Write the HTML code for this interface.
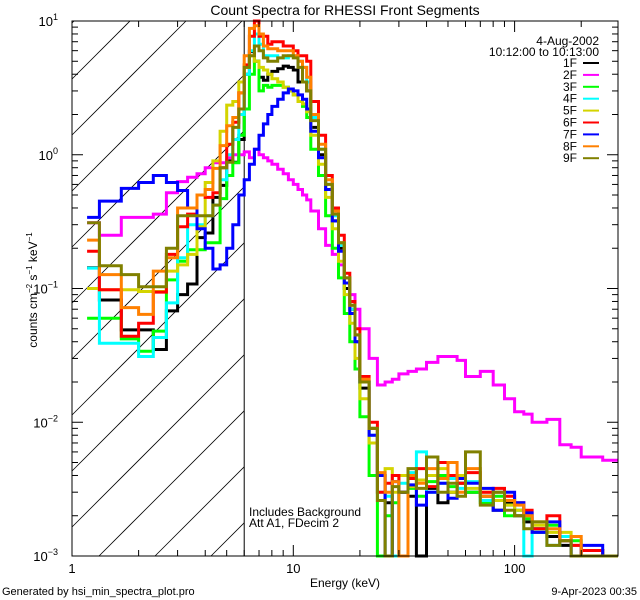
<!DOCTYPE html>
<html><head><meta charset="utf-8"><style>
html,body{margin:0;padding:0;background:#fff;width:640px;height:600px;overflow:hidden;}
svg{display:block;font-family:"Liberation Sans",sans-serif;overflow:hidden;}
</style></head><body>
<svg id="chart" width="640" height="600" viewBox="0 0 640 600" xmlns="http://www.w3.org/2000/svg">
<rect width="640" height="600" fill="#fff"/>
<text x="345" y="15" font-size="14" text-anchor="middle">Count Spectra for RHESSI Front Segments</text>
<g id="hatch"></g>
<g id="series"></g>
<g id="axes"></g>
<text x="249" y="516" font-size="12">Includes Background</text>
<text x="249" y="527" font-size="12">Att A1, FDecim  2</text>
<text x="345" y="587" font-size="12" text-anchor="middle">Energy (keV)</text>
<text transform="translate(37,290) rotate(-90)" font-size="12" text-anchor="middle">counts cm<tspan font-size="8" dy="-5">−2</tspan><tspan dy="5"> s</tspan><tspan font-size="8" dy="-5">−1</tspan><tspan dy="5"> keV</tspan><tspan font-size="8" dy="-5">−1</tspan></text>
<text x="2" y="595" font-size="11">Generated by hsi_min_spectra_plot.pro</text>
<text x="637" y="595" font-size="11" text-anchor="end">9-Apr-2023 00:35</text>
<text x="599" y="45" font-size="12" text-anchor="end">4-Aug-2002</text>
<text x="599" y="56" font-size="12" text-anchor="end">10:12:00 to 10:13:00</text>
<g id="legend"></g>
</svg>
<script>
const NS="http://www.w3.org/2000/svg";
const edges=[1.17,1.33,1.67,2,2.33,2.67,3,3.33,3.67,4,4.33,4.67,5,5.33,5.67,6,
6.33,6.67,7,7.33,7.67,8,8.5,9,9.5,10,10.5,11,
11.5,12,13,14,15,16,17,18,19,20,22,24,26,28,30,33,36,40,45,50,55,60,70,80,90,100,110,120,140,160,180,200,250,300];
const seriesNames=["1F","2F","3F","4F","5F","6F","7F","8F","9F"];
const seriesColors=["#000000","#ff00ff","#00ff00","#00ffff","#d4d400","#ff0000","#0000ff","#ff8000","#808000"];
const v1F=[0.143,0.082,0.049,0.049,0.035,0.068,0.09,0.108,0.24,0.26,0.48,0.59,0.9,0.88,1.3,
4,5.9,5,3.8,3.6,4,4.2,4.4,4.6,4.5,4.3,3.5,
3.5,3,1.6,1.0,0.55,0.32,0.2,0.1,0.07,0.04,0.018,0.009,0.004,0.0025,0.0009,0.003,0.0028,0.0009,0.0032,0.0025,0.003,0.0035,0.003,0.0028,0.0022,0.0025,0.002,0.0018,0.0016,0.0014,0.0012,0.0009,0.0011,0.0008];
const v2F=[0.31,0.25,0.34,0.34,0.36,0.52,0.63,0.68,0.72,0.8,0.87,0.87,0.95,1.0,1.0,
1.05,0.95,1.1,1.0,0.95,0.9,0.85,0.78,0.72,0.65,0.6,0.55,
0.5,0.46,0.38,0.28,0.21,0.18,0.15,0.12,0.09,0.07,0.05,0.03,0.019,0.02,0.021,0.023,0.024,0.025,0.028,0.031,0.031,0.029,0.022,0.024,0.019,0.015,0.012,0.0115,0.01,0.0105,0.0068,0.0065,0.0055,0.0052];
const v3F=[0.06,0.06,0.042,0.034,0.048,0.116,0.16,0.195,0.195,0.22,0.22,0.47,0.7,0.87,1.4,
2.2,4,5,3,3.3,3.2,3.3,3.3,3.2,3.0,2.8,2.5,
2.3,1.9,1.1,0.7,0.35,0.2,0.12,0.065,0.04,0.025,0.011,0.004,0.0009,0.002,0.0025,0.003,0.0032,0.0028,0.0036,0.004,0.0033,0.0035,0.003,0.0025,0.0028,0.002,0.0022,0.0019,0.0015,0.0017,0.0014,0.0013,0.0011,0.0009];
const v4F=[0.142,0.039,0.039,0.031,0.043,0.078,0.17,0.3,0.3,0.35,0.42,0.65,1.0,1.3,2.0,
4,6,8,6.7,5.5,5.5,5.5,5.3,5.3,5.5,5.5,5,
4.5,3.5,1.9,1.1,0.6,0.35,0.21,0.11,0.07,0.04,0.02,0.008,0.003,0.0028,0.0009,0.0035,0.0042,0.006,0.003,0.0035,0.0038,0.0032,0.0036,0.0026,0.003,0.0024,0.0022,0.0009,0.0016,0.0012,0.0014,0.001,0.0009,0.0009];
const v5F=[0.1,0.098,0.098,0.095,0.095,0.135,0.15,0.18,0.29,0.62,0.9,1.5,2.35,2.5,3.5,
4.5,5.5,5,4.5,4.3,4.0,3.7,3.5,3.2,3.0,2.8,2.5,
2.4,2.1,1.4,0.85,0.48,0.28,0.16,0.09,0.055,0.03,0.015,0.007,0.004,0.0045,0.003,0.004,0.0033,0.0037,0.004,0.0045,0.003,0.004,0.0032,0.003,0.0026,0.0024,0.0022,0.002,0.0017,0.0015,0.0015,0.0012,0.0011,0.001];
const v6F=[0.19,0.098,0.044,0.055,0.094,0.18,0.29,0.36,0.5,0.48,0.52,0.8,1.2,1.75,2.9,
4.7,7.7,10,7.7,7.7,6.7,7,7,6.5,6.5,6,5.5,
5.5,5,2.5,1.4,0.7,0.4,0.25,0.13,0.08,0.05,0.022,0.01,0.003,0.0035,0.004,0.003,0.0038,0.0045,0.0033,0.005,0.004,0.0035,0.0042,0.003,0.0032,0.0028,0.0025,0.0022,0.0016,0.002,0.0013,0.0012,0.0011,0.0009];
const v7F=[0.34,0.45,0.56,0.62,0.70,0.62,0.54,0.40,0.28,0.2,0.14,0.15,0.2,0.3,0.5,
0.65,0.85,1.1,1.4,1.7,2.0,2.3,2.6,2.9,3.1,3.0,2.8,
2.6,2.2,1.5,0.95,0.55,0.32,0.19,0.11,0.065,0.04,0.02,0.008,0.004,0.0009,0.0036,0.003,0.0034,0.0024,0.003,0.0035,0.0027,0.0038,0.0035,0.0032,0.0022,0.003,0.0025,0.0021,0.0015,0.0018,0.0013,0.0009,0.0012,0.001];
const v8F=[0.23,0.127,0.072,0.064,0.135,0.17,0.4,0.4,0.5,0.55,0.79,1.17,1.65,1.9,2.9,
5.5,8.8,9.2,8,6.5,6.2,6.2,6,6,6,5.5,5,
4.5,3.8,2.0,1.2,0.65,0.38,0.22,0.12,0.075,0.045,0.021,0.009,0.0042,0.003,0.0036,0.0009,0.004,0.0035,0.0045,0.0038,0.005,0.003,0.0045,0.0028,0.003,0.0026,0.0024,0.002,0.0018,0.0016,0.0013,0.0014,0.001,0.0009];
const v9F=[0.31,0.148,0.127,0.103,0.103,0.2,0.35,0.35,0.35,0.35,0.42,0.8,0.88,1.6,2.2,
4.5,5.5,6.5,6,5.3,5.0,5,5.3,5.5,5.5,5.3,4.5,
3.5,3,1.8,1.1,0.6,0.36,0.22,0.12,0.075,0.045,0.02,0.009,0.0026,0.0009,0.0033,0.003,0.0045,0.0032,0.0055,0.003,0.0035,0.0028,0.006,0.0024,0.003,0.0022,0.002,0.0016,0.0018,0.0012,0.0013,0.0009,0.001,0.0009];
const seriesValues=[v1F,v2F,v3F,v4F,v5F,v6F,v7F,v8F,v9F];
const yTickExps=[-3,-2,-1,0,1];
const xTickLabels=["1","10","100"];
const xTickValues=[1,10,100];
const bgCutoff=6.0;

const L=72,R=618,T=21,B=556;
const X=e=>L+221.3*Math.log10(e);
const Y=v=>B-133.75*(Math.log10(v)+3);
const yc=v=>Math.min(B,Math.max(T,Y(v)));
const svg=document.getElementById('chart');
function mk(tag,attrs,parent){const el=document.createElementNS(NS,tag);for(const k in attrs)el.setAttribute(k,attrs[k]);parent.appendChild(el);return el;}

// hatch (lines y = c - x clipped analytically to the hatched rectangle)
const hatch=document.getElementById('hatch');
const xCut=X(bgCutoff);
for(let c=655-56*12;c<=655+56*2;c+=56){
  const xa=Math.max(L,c-B), xb=Math.min(xCut,c-T);
  if(xb<=xa)continue;
  const ln=mk('line',{x1:xa,y1:c-xa,x2:xb,y2:c-xb,stroke:'#000','stroke-width':0.8},hatch);
  
  
}
const cut=mk('line',{x1:xCut,y1:T,x2:xCut,y2:B,stroke:'#000','stroke-width':1},hatch);



// series (values clamped to the plot range)
const sg=document.getElementById('series');
seriesValues.forEach((vals,si)=>{
  let d='M'+X(edges[0]).toFixed(1)+' '+yc(vals[0]).toFixed(1)+' H'+X(edges[1]).toFixed(1);
  for(let i=1;i<vals.length;i++){d+=' V'+yc(vals[i]).toFixed(1)+' H'+Math.min(R,X(edges[i+1])).toFixed(1);}
  const p=mk('path',{d:d,fill:'none',stroke:seriesColors[si],'stroke-width':3,'stroke-linejoin':'miter'},sg);
  
  
});

// axes
const ax=document.getElementById('axes');
const fr=mk('rect',{x:L,y:T,width:R-L,height:B-T,fill:'none',stroke:'#000','stroke-width':1},ax);


for(let ex=-3;ex<=1;ex++){
  for(let m=1;m<=9;m++){
    const v=m*Math.pow(10,ex); if(ex===1&&m>1)break;
    const y=Y(v), len=m===1?11:6;
    mk('line',{x1:L,y1:y,x2:L+len,y2:y,stroke:'#000'},ax);
    mk('line',{x1:R,y1:y,x2:R-len,y2:y,stroke:'#000'},ax);
  }
}
yTickExps.forEach(ex=>{
  const t=mk('text',{x:58,y:Y(Math.pow(10,ex))+5,'font-size':13,'text-anchor':'end'},ax);
  t.textContent='10';
  const s=mk('tspan',{'font-size':9,dy:-6},t); s.textContent=ex<0?('−'+(-ex)):String(ex);
  
  
});
for(let ex=0;ex<=2;ex++){
  for(let m=1;m<=9;m++){
    const e=m*Math.pow(10,ex); const x=X(e); if(x>R)break;
    const len=m===1?11:6;
    mk('line',{x1:x,y1:B,x2:x,y2:B-len,stroke:'#000'},ax);
    mk('line',{x1:x,y1:T,x2:x,y2:T+len,stroke:'#000'},ax);
  }
}
xTickValues.forEach((e,i)=>{
  const t=mk('text',{x:X(e),y:573,'font-size':13,'text-anchor':'middle'},ax);
  t.textContent=xTickLabels[i];
  
  
});

// legend
const lg=document.getElementById('legend');
seriesNames.forEach((n,i)=>{
  const y=67+i*11.9;
  const t=mk('text',{x:577,y:y,'font-size':12,'text-anchor':'end'},lg);
  t.textContent=n;
  
  
  const l=mk('line',{x1:583,y1:y-4,x2:599,y2:y-4,stroke:seriesColors[i],'stroke-width':2},lg);
  
  
});
</script>
</body></html>
